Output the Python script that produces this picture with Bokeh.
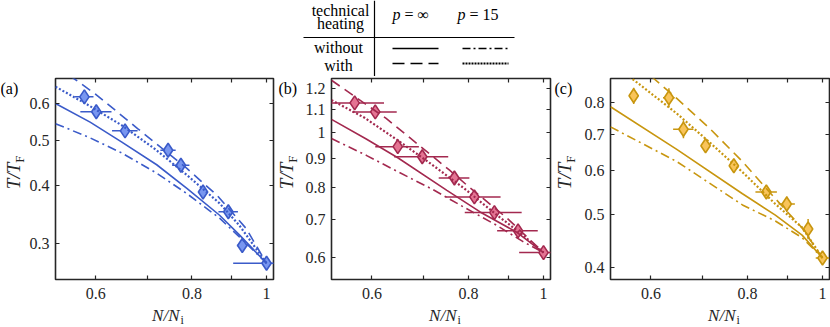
import numpy as np
from bokeh.plotting import figure
from bokeh.models import Range1d, FixedTicker, LogAxis
from bokeh.layouts import column, row
from bokeh.embed import file_html
from bokeh.resources import INLINE

# ---------------- data ----------------
x_range = (0.532, 1.021)
x_ticks = [0.6, 0.8, 1.0]
x_tick_labels = ["0.6", "0.8", "1"]
x_minor_ticks = [0.7, 0.9]

# panel (a)
a_ylim = (0.251, 0.679)
a_yticks = [0.3, 0.4, 0.5, 0.6]
a_ylabels = ["0.3", "0.4", "0.5", "0.6"]
a_x = [0.580, 0.601, 0.655, 0.745, 0.774, 0.827, 0.892, 0.930, 1.0]
a_y = [0.620, 0.576, 0.524, 0.476, 0.442, 0.387, 0.351, 0.297, 0.272]
a_xerr = [0.016, 0.028, 0.025, 0.017, 0.020, 0.010, 0.026, 0.015, 0.095]
a_yerr = [0.020, 0.015, 0.014, 0.014, 0.013, 0.010, 0.009, 0.009, 0.005]
a_solid_x = [0.532, 0.590, 0.648, 0.720, 0.788, 0.869, 0.922, 1.0]
a_solid_y = [0.600, 0.547, 0.496, 0.443, 0.394, 0.345, 0.313, 0.272]
a_dashdot_x = [0.532, 0.590, 0.648, 0.720, 0.788, 0.869, 0.922, 1.0]
a_dashdot_y = [0.543, 0.506, 0.470, 0.425, 0.384, 0.340, 0.310, 0.272]
a_dashed_x = [0.532, 0.562, 0.600, 0.680, 0.788, 0.862, 0.941, 1.0]
a_dashed_y = [0.720, 0.679, 0.628, 0.530, 0.435, 0.381, 0.323, 0.272]
a_dotted_x = [0.532, 0.587, 0.648, 0.715, 0.788, 0.869, 0.922, 1.0]
a_dotted_y = [0.652, 0.595, 0.539, 0.480, 0.421, 0.366, 0.328, 0.272]

# panel (b)
b_ylim = (0.548, 1.25)
b_yticks = [0.6, 0.7, 0.8, 0.9, 1.0, 1.1, 1.2]
b_ylabels = ["0.6", "0.7", "0.8", "0.9", "1", "1.1", "1.2"]
b_x = [0.570, 0.606, 0.648, 0.697, 0.767, 0.814, 0.864, 0.927, 1.0]
b_y = [1.131, 1.090, 0.945, 0.907, 0.831, 0.769, 0.721, 0.669, 0.612]
b_xerr = [0.052, 0.040, 0.042, 0.056, 0.035, 0.066, 0.073, 0.056, 0.070]
b_yerr = [0.020, 0.020, 0.018, 0.018, 0.015, 0.015, 0.013, 0.012, 0.010]
b_solid_x = [0.532, 0.590, 0.648, 0.750, 0.828, 0.922, 1.0]
b_solid_y = [1.057, 0.975, 0.903, 0.790, 0.723, 0.666, 0.612]
b_dashdot_x = [0.532, 0.590, 0.648, 0.720, 0.788, 0.869, 0.941, 1.0]
b_dashdot_y = [0.977, 0.912, 0.853, 0.792, 0.738, 0.685, 0.640, 0.612]
b_dashed_x = [0.532, 0.626, 0.683, 0.756, 0.796, 0.898, 1.0]
b_dashed_y = [1.241, 1.061, 0.962, 0.858, 0.807, 0.704, 0.612]
b_dotted_x = [0.532, 0.587, 0.648, 0.715, 0.788, 0.869, 0.922, 1.0]
b_dotted_y = [1.144, 1.064, 0.970, 0.881, 0.798, 0.715, 0.672, 0.612]

# panel (c)
c_ylim = (0.380, 0.885)
c_yticks = [0.4, 0.5, 0.6, 0.7, 0.8]
c_ylabels = ["0.4", "0.5", "0.6", "0.7", "0.8"]
c_x = [0.570, 0.633, 0.661, 0.706, 0.768, 0.846, 0.899, 0.958, 1.0]
c_y = [0.823, 0.816, 0.715, 0.667, 0.613, 0.549, 0.522, 0.470, 0.416]
c_xerr = [0.005, 0.011, 0.020, 0.008, 0.008, 0.027, 0.022, 0.005, 0.020]
c_yerr = [0.028, 0.033, 0.027, 0.012, 0.012, 0.015, 0.017, 0.020, 0.008]
c_solid_x = [0.532, 0.648, 0.788, 0.869, 0.941, 1.0]
c_solid_y = [0.786, 0.657, 0.545, 0.498, 0.458, 0.416]
c_dashdot_x = [0.532, 0.648, 0.788, 0.869, 0.941, 1.0]
c_dashdot_y = [0.722, 0.624, 0.520, 0.486, 0.453, 0.416]
c_dashed_x = [0.580, 0.605, 0.648, 0.715, 0.788, 0.869, 0.941, 1.0]
c_dashed_y = [0.932, 0.885, 0.814, 0.717, 0.624, 0.534, 0.472, 0.416]
c_dotted_x = [0.532, 0.567, 0.648, 0.715, 0.788, 0.869, 0.941, 1.0]
c_dotted_y = [0.949, 0.885, 0.764, 0.676, 0.597, 0.522, 0.473, 0.416]

panel_tags = ["(a)", "(b)", "(c)"]
x_label, x_label_sub = "N/N", "i"
y_label, y_label_sub = "T/T", "F"

# colours
a_line, a_fill = "#3b5bc9", "#7896f0"
b_line, b_fill = "#a3294f", "#e47493"
c_line, c_fill = "#c8960f", "#f9c45a"

AX = "#262626"
SERIF = "Liberation Serif"
DASHES = {"solid": "solid", "dashdot": "9 4 2 4", "dashed": "10 6", "dotted": "2 2"}

LEG_H = 76          # legend strip height (page y 0..76)
ROW_H = 229         # 2 + 201 + 26  -> page y 76..305
BOTTOM_Y = LEG_H + ROW_H


def style_axis(ax, ticks, labels, minor, standoff):
    ax.ticker = FixedTicker(ticks=ticks, minor_ticks=minor)
    if labels:
        ax.major_label_overrides = {t: l for t, l in zip(ticks, labels)}
    ax.axis_line_color = None
    for kind in ("major", "minor"):
        setattr(ax, f"{kind}_tick_line_color", AX)
        setattr(ax, f"{kind}_tick_line_width", 1.2)
        setattr(ax, f"{kind}_tick_in", 4)
        setattr(ax, f"{kind}_tick_out", 0)
    ax.major_label_text_font = SERIF
    ax.major_label_text_color = AX
    ax.major_label_text_font_size = "16px"
    ax.major_label_standoff = standoff


def make_panel(ylim, yticks, ylabels, lc, fc, px, py, pxerr, pyerr, curves, bl, br):
    p = figure(width=bl + 221 + br, height=ROW_H, x_axis_type="log", y_axis_type="log",
               x_range=Range1d(*x_range), y_range=Range1d(*ylim),
               output_backend="svg", toolbar_location=None,
               min_border_left=bl, min_border_right=br, min_border_top=2, min_border_bottom=26)
    p.outline_line_color = AX
    p.outline_line_width = 1.6
    p.grid.visible = False
    p.background_fill_color = "white"
    p.border_fill_color = "white"
    p.add_layout(LogAxis(), "above")
    p.add_layout(LogAxis(), "right")
    style_axis(p.below[0], x_ticks, x_tick_labels, x_minor_ticks, 8)
    style_axis(p.above[0], [], None, x_ticks + x_minor_ticks, 0)
    style_axis(p.left[0], yticks, ylabels, [], 6)
    style_axis(p.right[0], [], None, yticks, 0)

    pxa, pya = np.array(px), np.array(py)
    xe, ye = np.array(pxerr), np.array(pyerr)
    p.segment(pxa - xe, pya, pxa + xe, pya, line_color=lc, line_width=1.5)
    p.segment(pxa, pya - ye, pxa, pya + ye, line_color=lc, line_width=1.5)
    p.scatter(px, py, marker="diamond", size=14, fill_color=fc, line_color=lc, line_width=1.6)

    for kind, (cx, cy) in curves.items():
        p.line(cx, cy, line_color=lc, line_width=2.2 if kind == "dotted" else 1.6,
               line_dash=DASHES[kind])
    return p


def blank(w, h, x0, y0):
    """Text strip whose data coordinates are page pixels (y pointing down)."""
    f = figure(width=w, height=h, x_range=Range1d(x0, x0 + w), y_range=Range1d(y0 + h, y0),
               x_axis_type=None, y_axis_type=None, output_backend="svg",
               toolbar_location=None, min_border=0)
    f.outline_line_color = None
    f.grid.visible = False
    f.background_fill_color = "white"
    f.border_fill_color = "white"
    return f


def text(f, x, y, t, size=16, style="normal", align="left", baseline="middle",
         angle=0.0, color="black"):
    f.text([x], [y], text=[t], text_font={"value": SERIF}, text_font_size=f"{size}px",
           text_font_style=style, text_align=align, text_baseline=baseline, angle=angle,
           text_color=color)


def left_strip(w, x0, tag, tag_x, base_x):
    f = blank(w, ROW_H, x0, LEG_H)
    text(f, tag_x, 78, tag, baseline="top")
    # y label, rotated, centred on the axis (page y ~178)
    text(f, base_x - 0.3 * 19, 187, y_label, size=19, style="italic", align="center",
         angle=np.pi / 2, color=AX)
    text(f, base_x + 4 - 0.3 * 13, 168, y_label_sub, size=13, align="center",
         angle=np.pi / 2, color=AX)
    return f


fa = make_panel(a_ylim, a_yticks, a_ylabels, a_line, a_fill, a_x, a_y, a_xerr, a_yerr,
                {"solid": (a_solid_x, a_solid_y), "dashdot": (a_dashdot_x, a_dashdot_y),
                 "dashed": (a_dashed_x, a_dashed_y), "dotted": (a_dotted_x, a_dotted_y)},
                26, 2)
fb = make_panel(b_ylim, b_yticks, b_ylabels, b_line, b_fill, b_x, b_y, b_xerr, b_yerr,
                {"solid": (b_solid_x, b_solid_y), "dashdot": (b_dashdot_x, b_dashdot_y),
                 "dashed": (b_dashed_x, b_dashed_y), "dotted": (b_dotted_x, b_dotted_y)},
                27, 2)
fc = make_panel(c_ylim, c_yticks, c_ylabels, c_line, c_fill, c_x, c_y, c_xerr, c_yerr,
                {"solid": (c_solid_x, c_solid_y), "dashdot": (c_dashdot_x, c_dashdot_y),
                 "dashed": (c_dashed_x, c_dashed_y), "dotted": (c_dotted_x, c_dotted_y)},
                27, 1)

sa = left_strip(26, 0, panel_tags[0], 0, 19)
sb = left_strip(27, 275, panel_tags[1], 278, 292)
sc = left_strip(29, 552, panel_tags[2], 554, 570)

# x-label strip
xs = blank(830, 327 - BOTTOM_Y, 0, BOTTOM_Y)
for fl in (52, 329, 608):
    text(xs, fl + 127, 320 - 0.3 * 17, x_label, size=17, style="italic", align="right", color=AX)
    text(xs, fl + 128, 323 - 0.3 * 12, x_label_sub, size=12, align="left", color=AX)

# ---------------- legend table ----------------
lg = blank(830, LEG_H, 0, 0)
header_rows = ["technical", "heating"]
row_names = ["without", "with"]
col_p = ["\u221e", "15"]

text(lg, 340, 15 - 4.8, header_rows[0], align="center")
text(lg, 340, 28 - 4.8, header_rows[1], align="center")
text(lg, 338, 52 - 4.8, row_names[0], align="center")
text(lg, 338, 70 - 4.8, row_names[1], align="center")
for xp, c in zip((392, 457), col_p):
    text(lg, xp, 19 - 4.8, "p", style="italic")
    text(lg, xp + 12, 19 - 4.8, "= " + c)
lg.segment([374], [0], [374], [76], line_color="black", line_width=1.2)
lg.segment([303], [37], [514], [37], line_color="black", line_width=1.2)
lg.segment([392], [48], [438], [48], line_color="black", line_width=1.6)
lg.segment([462], [48], [508], [48], line_color="black", line_width=1.6, line_dash="8 3 2 3")
lg.segment([392], [63], [438], [63], line_color="black", line_width=1.6, line_dash="12 6")
lg.segment([462], [63], [508], [63], line_color="black", line_width=1.8, line_dash="2 1")

layout = column(lg, row(sa, fa, sb, fb, sc, fc, spacing=0), xs, spacing=0)
open("out.html", "w").write(file_html(layout, INLINE))
